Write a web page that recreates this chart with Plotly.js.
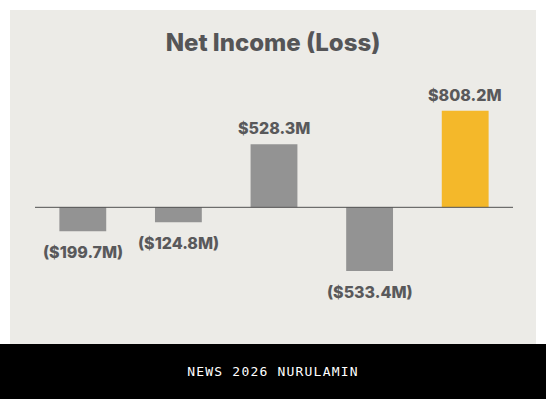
<!DOCTYPE html>
<html>
<head>
<meta charset="utf-8">
<script src="https://cdn.plot.ly/plotly-3.0.1.min.js"></script>
<style>
  html, body { margin: 0; padding: 0; background: #ffffff; width: 546px; height: 399px; overflow: hidden; }
  #chart { position: absolute; left: 10px; top: 10px; width: 526px; height: 334px; }
  #footer { position: absolute; left: 0; top: 344px; width: 546px; height: 55px; background: #000000;
            color: #ffffff; font-family: "DejaVu Sans Mono", monospace; font-size: 13px; letter-spacing: 1.2px;
            line-height: 55px; text-align: center; }
</style>
</head>
<body>
<div id="chart"></div>
<div id="footer">NEWS 2026 NURULAMIN</div>
<script>
const categories = ["Year 1", "Year 2", "Year 3", "Year 4", "Year 5"];
const values = [-199.7, -124.8, 528.3, -533.4, 808.2];
const labels = ["($199.7M)", "($124.8M)", "$528.3M", "($533.4M)", "$808.2M"];
const barColors = ["#939393", "#939393", "#939393", "#939393", "#f4b82a"];

const trace = {
  type: "bar",
  x: categories,
  y: values,
  width: 0.49,
  marker: { color: barColors },
  hoverinfo: "none"
};

const annotations = values.map((v, i) => ({
  x: categories[i],
  y: v,
  xref: "x",
  yref: "y",
  text: labels[i],
  showarrow: false,
  yanchor: v >= 0 ? "bottom" : "top",
  yshift: v >= 0 ? 4 : -9,
  font: { family: "Inter, Roboto, sans-serif", size: 16, color: "#59595b", weight: 800 }
}));

const layout = {
  width: 526,
  height: 334,
  margin: { l: 25, r: 23, t: 60, b: 10 },
  paper_bgcolor: "#ecebe7",
  plot_bgcolor: "#ecebe7",
  title: {
    text: "Net Income (Loss)",
    x: 0.5,
    xanchor: "center",
    y: 0.903,
    yanchor: "middle",
    font: { family: "Inter, Roboto, sans-serif", size: 24, color: "#555557", weight: 800 }
  },
  showlegend: false,
  xaxis: {
    type: "category",
    range: [-0.5, 4.5],
    showticklabels: false,
    showgrid: false,
    zeroline: false,
    showline: false,
    ticks: ""
  },
  yaxis: {
    range: [-1060, 1149],
    showticklabels: false,
    showgrid: false,
    zeroline: false,
    showline: false,
    ticks: ""
  },
  shapes: [{
    type: "line",
    xref: "paper",
    yref: "y",
    x0: 0, x1: 1,
    y0: 0, y1: 0,
    layer: "above",
    line: { color: "#505050", width: 1 }
  }],
  annotations: annotations
};

Plotly.newPlot("chart", [trace], layout, { staticPlot: true, displayModeBar: false });
</script>
</body>
</html>
